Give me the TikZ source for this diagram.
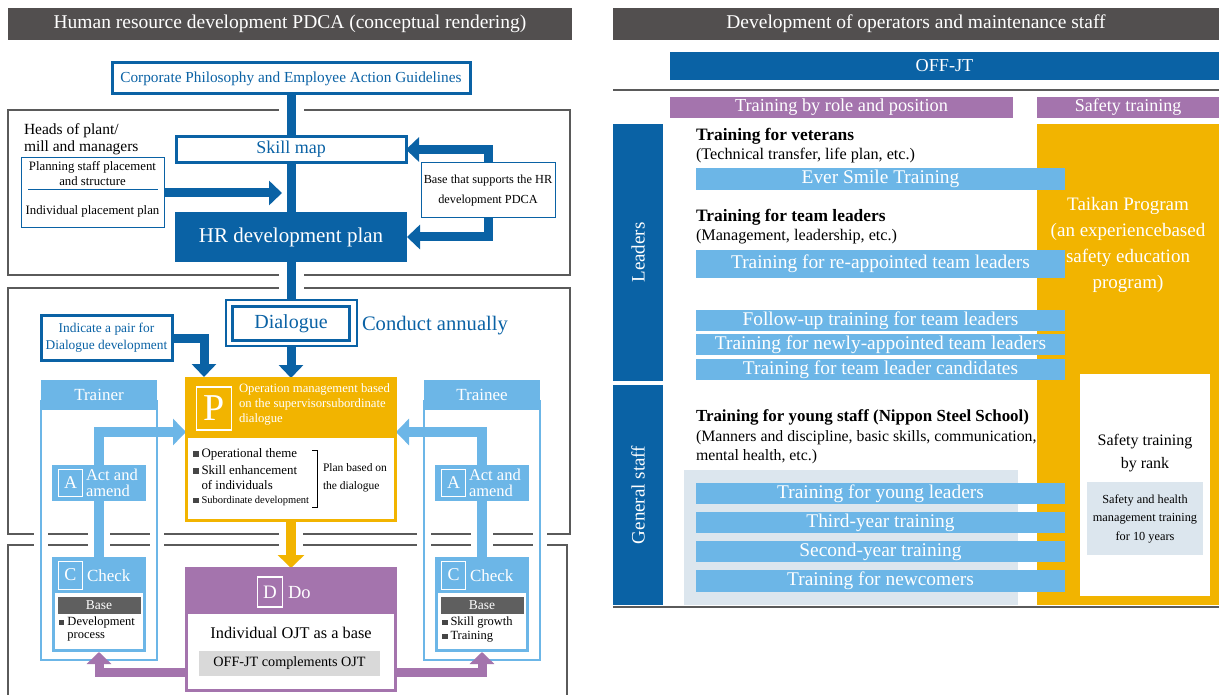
\documentclass[tikz,border=0pt]{standalone}
\usepackage{fontspec}
\setmainfont{Liberation Serif}
\usetikzlibrary{arrows.meta}
\definecolor{dgray}{RGB}{82,79,79}
\definecolor{mblue}{RGB}{10,98,165}
\definecolor{lblue}{RGB}{108,182,231}
\definecolor{orng}{RGB}{242,180,0}
\definecolor{purp}{RGB}{164,116,173}
\definecolor{bgb}{RGB}{220,230,238}
\definecolor{baseg}{RGB}{95,95,95}
\definecolor{offg}{RGB}{217,217,217}
\definecolor{fgray}{RGB}{90,90,90}
\definecolor{bulg}{RGB}{70,70,70}
\pgfdeclarelayer{bg}
\pgfdeclarelayer{halo}
\pgfdeclarelayer{mid}
\pgfsetlayers{bg,halo,mid,main}
\newcommand\sq{\textcolor{bulg}{\rule[0.5pt]{5.5pt}{5.5pt}}\hspace{3pt}}
\newcommand\fz[2]{\fontsize{#1}{#2}\selectfont}
\begin{document}
\begin{tikzpicture}[x=1pt,y=-1pt,
  every node/.style={inner sep=0pt, outer sep=0pt},
  tbar/.style={fill=dgray, text=white, minimum height=32pt, font=\fz{19.5}{22}},
  bluebox/.style={draw=mblue, line width=3pt, fill=white, text=mblue},
  thinbox/.style={draw=mblue, line width=1pt, fill=white},
  bconn/.style={draw=mblue, line width=9pt, -{Triangle[length=13pt,width=24pt]}},
  lconn/.style={draw=lblue, line width=10pt, -{Triangle[length=13pt,width=26pt]}},
  oconn/.style={draw=orng, line width=10pt, -{Triangle[length=13pt,width=26pt]}},
  pconn/.style={draw=purp, line width=9pt, -{Triangle[length=12pt,width=24pt]}},
  halo/.style={draw=white, line width=#1},
  lbar/.style={fill=lblue, minimum width=369pt, text=white, font=\fz{19.4}{22}},
  lettbox/.style={draw=white, line width=1pt, text=white},
  frameline/.style={draw=fgray, line width=1.3pt},
  wtxt/.style={anchor=west, align=left},
]
\useasboundingbox (0,0) rectangle (1219,695);

% ================= LEFT PANEL =================
\node[tbar, minimum width=564pt] (tl) at (290,24) {Human resource development PDCA (conceptual rendering)};
\node[bluebox, minimum width=358pt, minimum height=31pt, font=\fz{15.3}{18}] (corp) at (291,78.5) {Corporate Philosophy and Employee Action Guidelines};
\node[bluebox, minimum width=230pt, minimum height=26pt, font=\fz{18}{20}] (skill) at (291,149.5) {Skill map};
\node[fill=mblue, text=white, minimum width=232pt, minimum height=50pt, font=\fz{21}{24}] (hr) at (291,237) {HR development plan};
\node[anchor=north west, align=left, font=\fz{15.5}{17}] (heads) at (24,124) {Heads of plant/\\mill and managers};
\node[thinbox, minimum width=143pt, minimum height=70pt] (plan) at (92.5,193) {};
\node[align=center, font=\fz{12.8}{15}] (plana) at (92.5,174) {Planning staff placement\\and structure};
\node[font=\fz{12.8}{15}] (planb) at (92.5,211) {Individual placement plan};
\draw[mblue, line width=1pt] (28,190) -- (158,190);
\node[thinbox, align=center, font=\fz{12.3}{20}, minimum width=134pt, minimum height=55pt] (base) at (488,190.5) {Base that supports the HR\\development PDCA};

\node[draw=mblue, line width=2pt, fill=white, minimum width=131pt, minimum height=46pt] (dlgo) at (291,323) {};
\node[bluebox, minimum width=117pt, minimum height=33pt, font=\fz{20}{22}] (dlg) at (291,323.5) {Dialogue};
\node[anchor=west, text=mblue, font=\fz{20.6}{22}] (annual) at (362,326) {Conduct annually};
\node[bluebox, align=center, minimum width=131pt, minimum height=44pt, font=\fz{13.4}{17}] (pair) at (106.5,338) {Indicate a pair for\\Dialogue development};

% P box
\node[draw=orng, line width=3pt, fill=white, minimum width=209pt, minimum height=142pt] (P) at (291,449) {};
\fill[orng] (186.5,378) rectangle (395.5,438);
\node[lettbox, line width=1.2pt, minimum width=35pt, minimum height=43pt, font=\fz{38}{38}] (Pl) at (214,408.5) {P};
\node[anchor=north west, align=left, text=white, font=\fz{12.7}{15}] (Ptxt) at (239,384) {Operation management based\\on the supervisorsubordinate\\dialogue};
\node[wtxt, font=\fz{12.9}{15}] (b1) at (193,454) {\sq Operational theme};
\node[wtxt, font=\fz{12.9}{15}] (b2) at (193,470) {\sq Skill enhancement};
\node[wtxt, font=\fz{12.9}{15}] (b2b) at (201.5,485) {of individuals};
\node[wtxt, font=\fz{10.5}{13}] (b3) at (193,501) {\sq Subordinate development};
\draw[black, line width=0.8pt] (312,450) -- (317,450) -- (317,507) -- (312,507);
\node[wtxt, font=\fz{11.5}{18}] (pbd) at (323,478) {Plan based on\\the dialogue};

% D box
\node[draw=purp, line width=3pt, fill=white, minimum width=209pt, minimum height=122pt] (D) at (291,629) {};
\fill[purp] (186.5,568) rectangle (395.5,614);
\node[lettbox, line width=1.2pt, minimum width=25pt, minimum height=30pt, font=\fz{19}{19}] (Dl) at (270,592) {D};
\node[anchor=west, text=white, font=\fz{18.5}{20}] (Do) at (288,593) {Do};
\node[font=\fz{16.3}{18}] (ojt) at (291,633) {Individual OJT as a base};
\node[fill=offg, minimum width=181pt, minimum height=25pt, font=\fz{14.2}{16}] (offjt) at (289.5,663.5) {OFF-JT complements OJT};

% Trainer column
\node[fill=lblue, minimum width=116pt, minimum height=30pt, text=white, font=\fz{17}{18}] (trH) at (99,395) {Trainer};
\node[fill=lblue, minimum width=94pt, minimum height=36pt] (trA) at (99,482.5) {};
\node[lettbox, minimum width=24pt, minimum height=27pt, font=\fz{18}{18}] (trAl) at (70.5,483) {A};
\node[wtxt, text=white, font=\fz{16.5}{16.5}] (trAt) at (86,483) {Act and\\amend};
\node[fill=lblue, minimum width=94pt, minimum height=95pt] (trC) at (99,604.5) {};
\node[lettbox, minimum width=24pt, minimum height=28pt, font=\fz{18}{18}] (trCl) at (70.5,575) {C};
\node[wtxt, text=white, font=\fz{17}{17}] (trCt) at (87,576) {Check};
\fill[white] (55,593) rectangle (143,649);
\node[fill=baseg, minimum width=83pt, minimum height=17pt, text=white, font=\fz{13.5}{14}] (trB) at (99,605.5) {Base};
\node[anchor=north west, align=left, font=\fz{12.5}{13}] (trBt) at (59,617) {\sq Development\\\hspace{8.5pt}process};

% Trainee column
\node[fill=lblue, minimum width=116pt, minimum height=30pt, text=white, font=\fz{17}{18}] (teH) at (482,395) {Trainee};
\node[fill=lblue, minimum width=94pt, minimum height=36pt] (teA) at (482,482.5) {};
\node[lettbox, minimum width=24pt, minimum height=27pt, font=\fz{18}{18}] (teAl) at (453.5,483) {A};
\node[wtxt, text=white, font=\fz{16.5}{16.5}] (teAt) at (469,483) {Act and\\amend};
\node[fill=lblue, minimum width=94pt, minimum height=95pt] (teC) at (482,604.5) {};
\node[lettbox, minimum width=24pt, minimum height=28pt, font=\fz{18}{18}] (teCl) at (453.5,575) {C};
\node[wtxt, text=white, font=\fz{17}{17}] (teCt) at (470,576) {Check};
\fill[white] (438,593) rectangle (526,649);
\node[fill=baseg, minimum width=83pt, minimum height=17pt, text=white, font=\fz{13.5}{14}] (teB) at (482,605.5) {Base};
\node[anchor=north west, align=left, font=\fz{12.5}{14}] (teBt) at (442,617) {\sq Skill growth\\\sq Training};

\coordinate (pinPlan) at (282,193);
\coordinate (pinPair) at (204,377);
\coordinate (pinL) at (186,432);
\coordinate (pinR) at (396,432);

% frames
\begin{pgfonlayer}{bg}
\draw[frameline] (8,110) rectangle (570,275);
\draw[frameline] (8,288) rectangle (570,534);
\draw[frameline] (8,700) -- (8,545) -- (567,545) -- (567,700);
\end{pgfonlayer}

% halos
\begin{pgfonlayer}{halo}
\draw[halo=25pt] (corp.south) -- (skill.north);
\draw[halo=25pt] (hr.south) -- (dlgo.north);
\draw[halo=24pt] (P.south) -- (D.north);
\draw[halo=22pt] (trA.south) -- (trC.north);
\draw[halo=22pt] (teA.south) -- (teC.north);
\draw[halo=14pt] (41,380) rectangle (157,660);
\draw[halo=14pt] (424,380) rectangle (540,660);
\end{pgfonlayer}

% connectors
\begin{pgfonlayer}{mid}
\draw[lblue, line width=2.5pt] (41,400) -- (41,660) -- (157,660) -- (157,400);
\draw[lblue, line width=2.5pt] (424,400) -- (424,660) -- (540,660) -- (540,400);
\draw[mblue, line width=9pt] (corp.south) -- (skill.north);
\draw[mblue, line width=9pt] (skill.south) -- (hr.north);
\draw[mblue, line width=9pt] (hr.south) -- (dlgo.north);
\draw[bconn] (plan.east) -- (pinPlan);
\draw[bconn] (base.north) |- (skill.east);
\draw[bconn] (base.south) |- (hr.east);
\draw[bconn] (pair.east) -| (pinPair);
\draw[bconn] (dlgo.south) -- (P.north);
\draw[oconn] (P.south) -- (D.north);
\draw[lconn] (trA.north) |- (pinL);
\draw[lconn] (teA.north) |- (pinR);
\draw[lblue, line width=10pt] (trA.south) -- (trC.north);
\draw[lblue, line width=10pt] (teA.south) -- (teC.north);
\draw[pconn] (D.west |- 0,672) -| (trC.south);
\draw[pconn] (D.east |- 0,672) -| (teC.south);
\end{pgfonlayer}

% ================= RIGHT PANEL =================
\node[tbar, minimum width=606pt] (tr) at (916,24) {Development of operators and maintenance staff};
\node[fill=mblue, minimum width=549pt, minimum height=28pt, text=white, font=\fz{18.2}{20}] (offbar) at (944.5,66) {OFF-JT};
\draw[fgray, line width=2.5pt] (613,90) -- (1219,90);
\node[fill=purp, minimum width=343pt, minimum height=21pt, text=white, font=\fz{18.3}{20}] (role) at (841.5,107.5) {Training by role and position};
\node[fill=purp, minimum width=182pt, minimum height=21pt, text=white, font=\fz{18}{20}] (safe) at (1128,107.5) {Safety training};
\node[fill=orng, minimum width=182pt, minimum height=481pt] (ocol) at (1128,364.5) {};
\node[align=center, text=white, font=\fz{19}{26}] (taikan) at (1128,245) {Taikan Program\\(an experiencebased\\safety education\\program)};
\node[fill=white, minimum width=130pt, minimum height=222pt] (rankbox) at (1145,485) {};
\node[align=center, font=\fz{16}{23}] (rank) at (1145,453) {Safety training\\by rank};
\node[fill=bgb, minimum width=116pt, minimum height=73pt, align=center, font=\fz{12.3}{18.5}] (hbox) at (1145,518.5) {Safety and health\\management training\\for 10 years};
\node[fill=mblue, rotate=90, minimum width=257pt, minimum height=50pt, text=white, font=\fz{19}{20}] (lead) at (638,252.5) {Leaders};
\node[fill=mblue, rotate=90, minimum width=220pt, minimum height=50pt, text=white, font=\fz{19}{20}] (gen) at (638,495) {General staff};
\draw[fgray, line width=2pt] (613,606.5) -- (1219,606.5);
\fill[bgb] (684,470) rectangle (1018,605);

\node[wtxt, font=\bfseries\fz{17.4}{19}] (vet) at (696,136) {Training for veterans};
\node[wtxt, font=\fz{16.2}{18}] (vets) at (696,156) {(Technical transfer, life plan, etc.)};
\node[lbar, minimum height=22pt] (ever) at (880.5,179) {Ever Smile Training};
\node[wtxt, font=\bfseries\fz{17.4}{19}] (tlead) at (696,217) {Training for team leaders};
\node[wtxt, font=\fz{16.2}{18}] (tleads) at (696,237) {(Management, leadership, etc.)};
\node[lbar, minimum height=28pt] (reapp) at (880.5,264) {Training for re-appointed team leaders};
\node[lbar, minimum height=21pt] (follow) at (880.5,320.5) {Follow-up training for team leaders};
\node[lbar, minimum height=21pt] (newly) at (880.5,344.5) {Training for newly-appointed team leaders};
\node[lbar, minimum height=21pt] (cand) at (880.5,369.5) {Training for team leader candidates};
\node[wtxt, font=\bfseries\fz{16.9}{19}] (ystaff) at (696,417) {Training for young staff (Nippon Steel School)};
\node[wtxt, font=\fz{15.8}{18}] (ystaffs) at (696,438) {(Manners and discipline, basic skills, communication,};
\node[wtxt, font=\fz{15.8}{18}] (ystaffs2) at (696,457) {mental health, etc.)};
\node[lbar, minimum height=21pt] (young) at (880.5,493.5) {Training for young leaders};
\node[lbar, minimum height=21pt] (third) at (880.5,522.5) {Third-year training};
\node[lbar, minimum height=21pt] (second) at (880.5,551.5) {Second-year training};
\node[lbar, minimum height=22pt] (newc) at (880.5,581) {Training for newcomers};
\end{tikzpicture}
\end{document}
